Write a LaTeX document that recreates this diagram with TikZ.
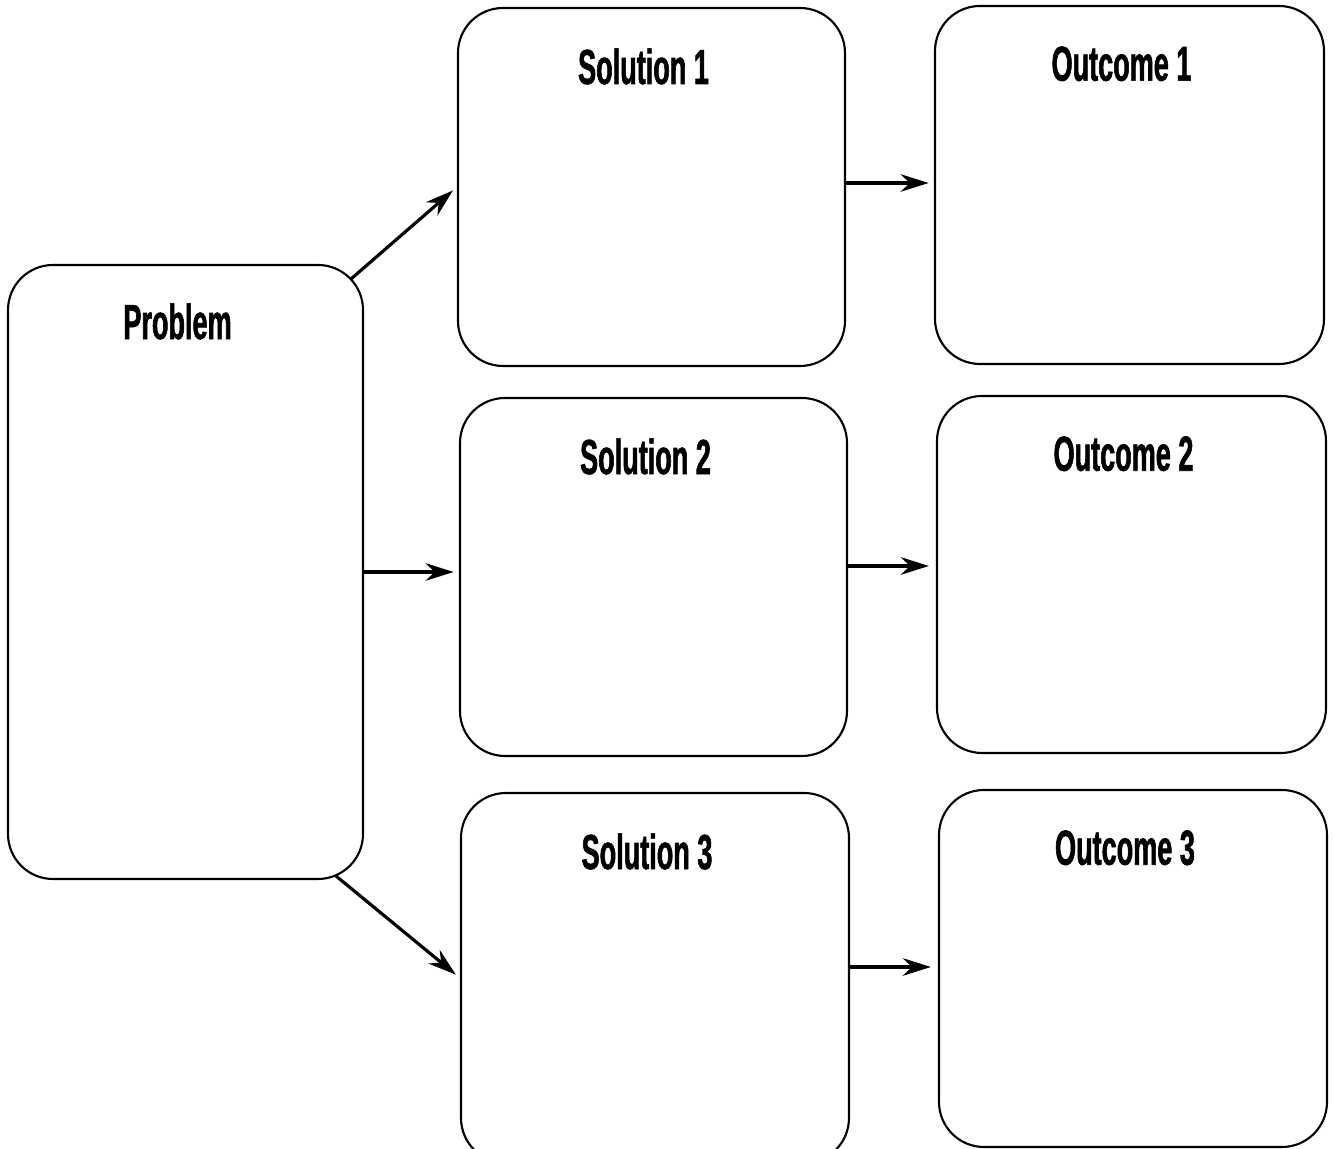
\documentclass[tikz,border=0pt]{standalone}
\usepackage{fontspec}
\newfontfamily\titlefont{Liberation Sans}[FakeStretch=0.55, FakeBold=1.2]
\usepackage{tikz}
\usetikzlibrary{arrows.meta, positioning, calc}

\tikzset{
    box/.style={draw, line width=0.6pt, rounded corners=0.45cm, inner sep=0pt},
    titre/.style={font=\titlefont\bfseries\fontsize{14}{16}\selectfont},
    fleche/.style={line width=0.9pt, -{Stealth[length=8pt, width=5pt]}}
}

\begin{document}
\begin{tikzpicture}
        \useasboundingbox (0,0) rectangle (13.33,11.49);

        % --- Problème : colonne de gauche ---
        \node[box, minimum width=3.55cm, minimum height=6.14cm,
              label={[titre, anchor=north, xshift=-0.08cm, yshift=-0.27cm]north:Problem}]
              (prob) at (1.855,5.77) {};

        % --- Solutions ---
        \node[box, minimum width=3.87cm, minimum height=3.58cm,
              label={[titre, anchor=north, xshift=-0.08cm, yshift=-0.29cm]north:Solution 1}]
              (sol1) at (6.515,9.62) {};
        \node[box, minimum width=3.87cm, minimum height=3.58cm,
              label={[titre, anchor=north, xshift=-0.08cm, yshift=-0.29cm]north:Solution 2}]
              (sol2) at (6.535,5.72) {};
        \node[box, minimum width=3.88cm, minimum height=3.70cm,
              label={[titre, anchor=north, xshift=-0.08cm, yshift=-0.29cm]north:Solution 3}]
              (sol3) at (6.55,1.71) {};

        % --- Résultats ---
        \node[box, minimum width=3.89cm, minimum height=3.58cm,
              label={[titre, anchor=north, xshift=-0.08cm, yshift=-0.29cm]north:Outcome 1}]
              (out1) at (11.295,9.64) {};
        \node[box, minimum width=3.89cm, minimum height=3.57cm,
              label={[titre, anchor=north, xshift=-0.08cm, yshift=-0.29cm]north:Outcome 2}]
              (out2) at (11.315,5.745) {};
        \node[box, minimum width=3.88cm, minimum height=3.57cm,
              label={[titre, anchor=north, xshift=-0.08cm, yshift=-0.29cm]north:Outcome 3}]
              (out3) at (11.33,1.805) {};

        % --- Flèches problème -> solutions ---
        \draw[fleche, shorten >=1.5pt] ([xshift=-0.13cm, yshift=-0.15cm]prob.north east) -- (sol1.west);
        \draw[fleche, shorten >=1.5pt] (prob.east) -- (prob.east -| sol2.west);
        \draw[fleche, shorten >=1.5pt] ([xshift=-0.28cm, yshift=0.04cm]prob.south east) -- (sol3.west);

        % --- Flèches solutions -> résultats ---
        \draw[fleche, shorten >=1.5pt] ([yshift=0.04cm]sol1.east) -- ([yshift=0.04cm]sol1.east -| out1.west);
        \draw[fleche, shorten >=2pt] ([yshift=0.11cm]sol2.east) -- ([yshift=0.11cm]sol2.east -| out2.west);
        \draw[fleche, shorten >=2pt] ([yshift=0.11cm]sol3.east) -- ([yshift=0.11cm]sol3.east -| out3.west);
    \end{tikzpicture}
\end{document}
